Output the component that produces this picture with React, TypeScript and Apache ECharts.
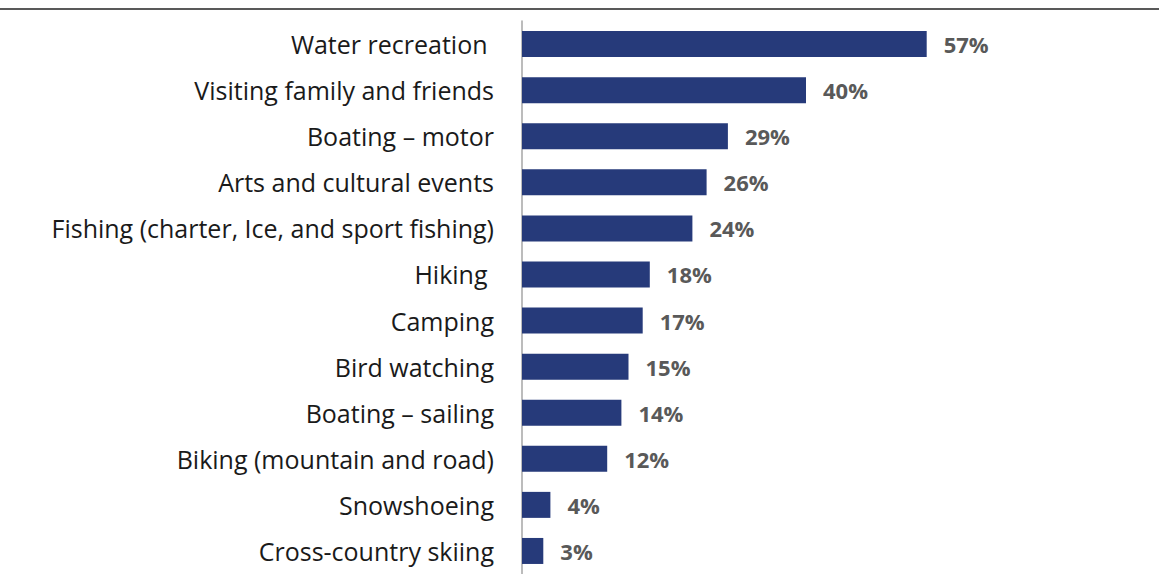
import React, { useEffect, useRef } from "react";
import * as echarts from "echarts";

const categories = [
  "Water recreation ",
  "Visiting family and friends",
  "Boating – motor",
  "Arts and cultural events",
  "Fishing (charter, Ice, and sport fishing)",
  "Hiking ",
  "Camping",
  "Bird watching",
  "Boating – sailing",
  "Biking (mountain and road)",
  "Snowshoeing",
  "Cross-country skiing",
];
const values = [57, 40, 29, 26, 24, 18, 17, 15, 14, 12, 4, 3];

export default function App() {
  const ref = useRef<HTMLDivElement>(null);
  useEffect(() => {
    document.body.style.margin = "0";
    const chart = echarts.init(ref.current!, null, { renderer: "svg" });
    chart.setOption({
      animation: false,
      backgroundColor: "#ffffff",
      grid: { left: 522, width: 568, top: 21, bottom: -4 },
      xAxis: {
        type: "value",
        min: 0,
        max: 80,
        show: false,
      },
      yAxis: {
        type: "category",
        data: categories,
        inverse: true,
        axisLine: { show: true, lineStyle: { color: "#a6a6a6", width: 1.5 } },
        axisTick: { show: false },
        axisLabel: {
          color: "#1a1a1a",
          fontFamily: "Open Sans",
          fontSize: 25,
          margin: 28,
        },
      },
      graphic: [
        {
          type: "line",
          shape: { x1: 0, y1: 9, x2: 1159, y2: 9 },
          style: { stroke: "#595959", lineWidth: 2 },
        },
      ],
      series: [
        {
          type: "bar",
          data: values,
          barWidth: 26,
          itemStyle: { color: "#263a7a" },
          label: {
            show: true,
            position: "right",
            distance: 17,
            formatter: "{c}%",
            color: "#595959",
            fontFamily: "Open Sans",
            fontWeight: "bold",
            fontSize: 22,
          },
        },
      ],
    });
    return () => chart.dispose();
  }, []);
  return <div ref={ref} style={{ width: 1159, height: 574 }} />;
}
